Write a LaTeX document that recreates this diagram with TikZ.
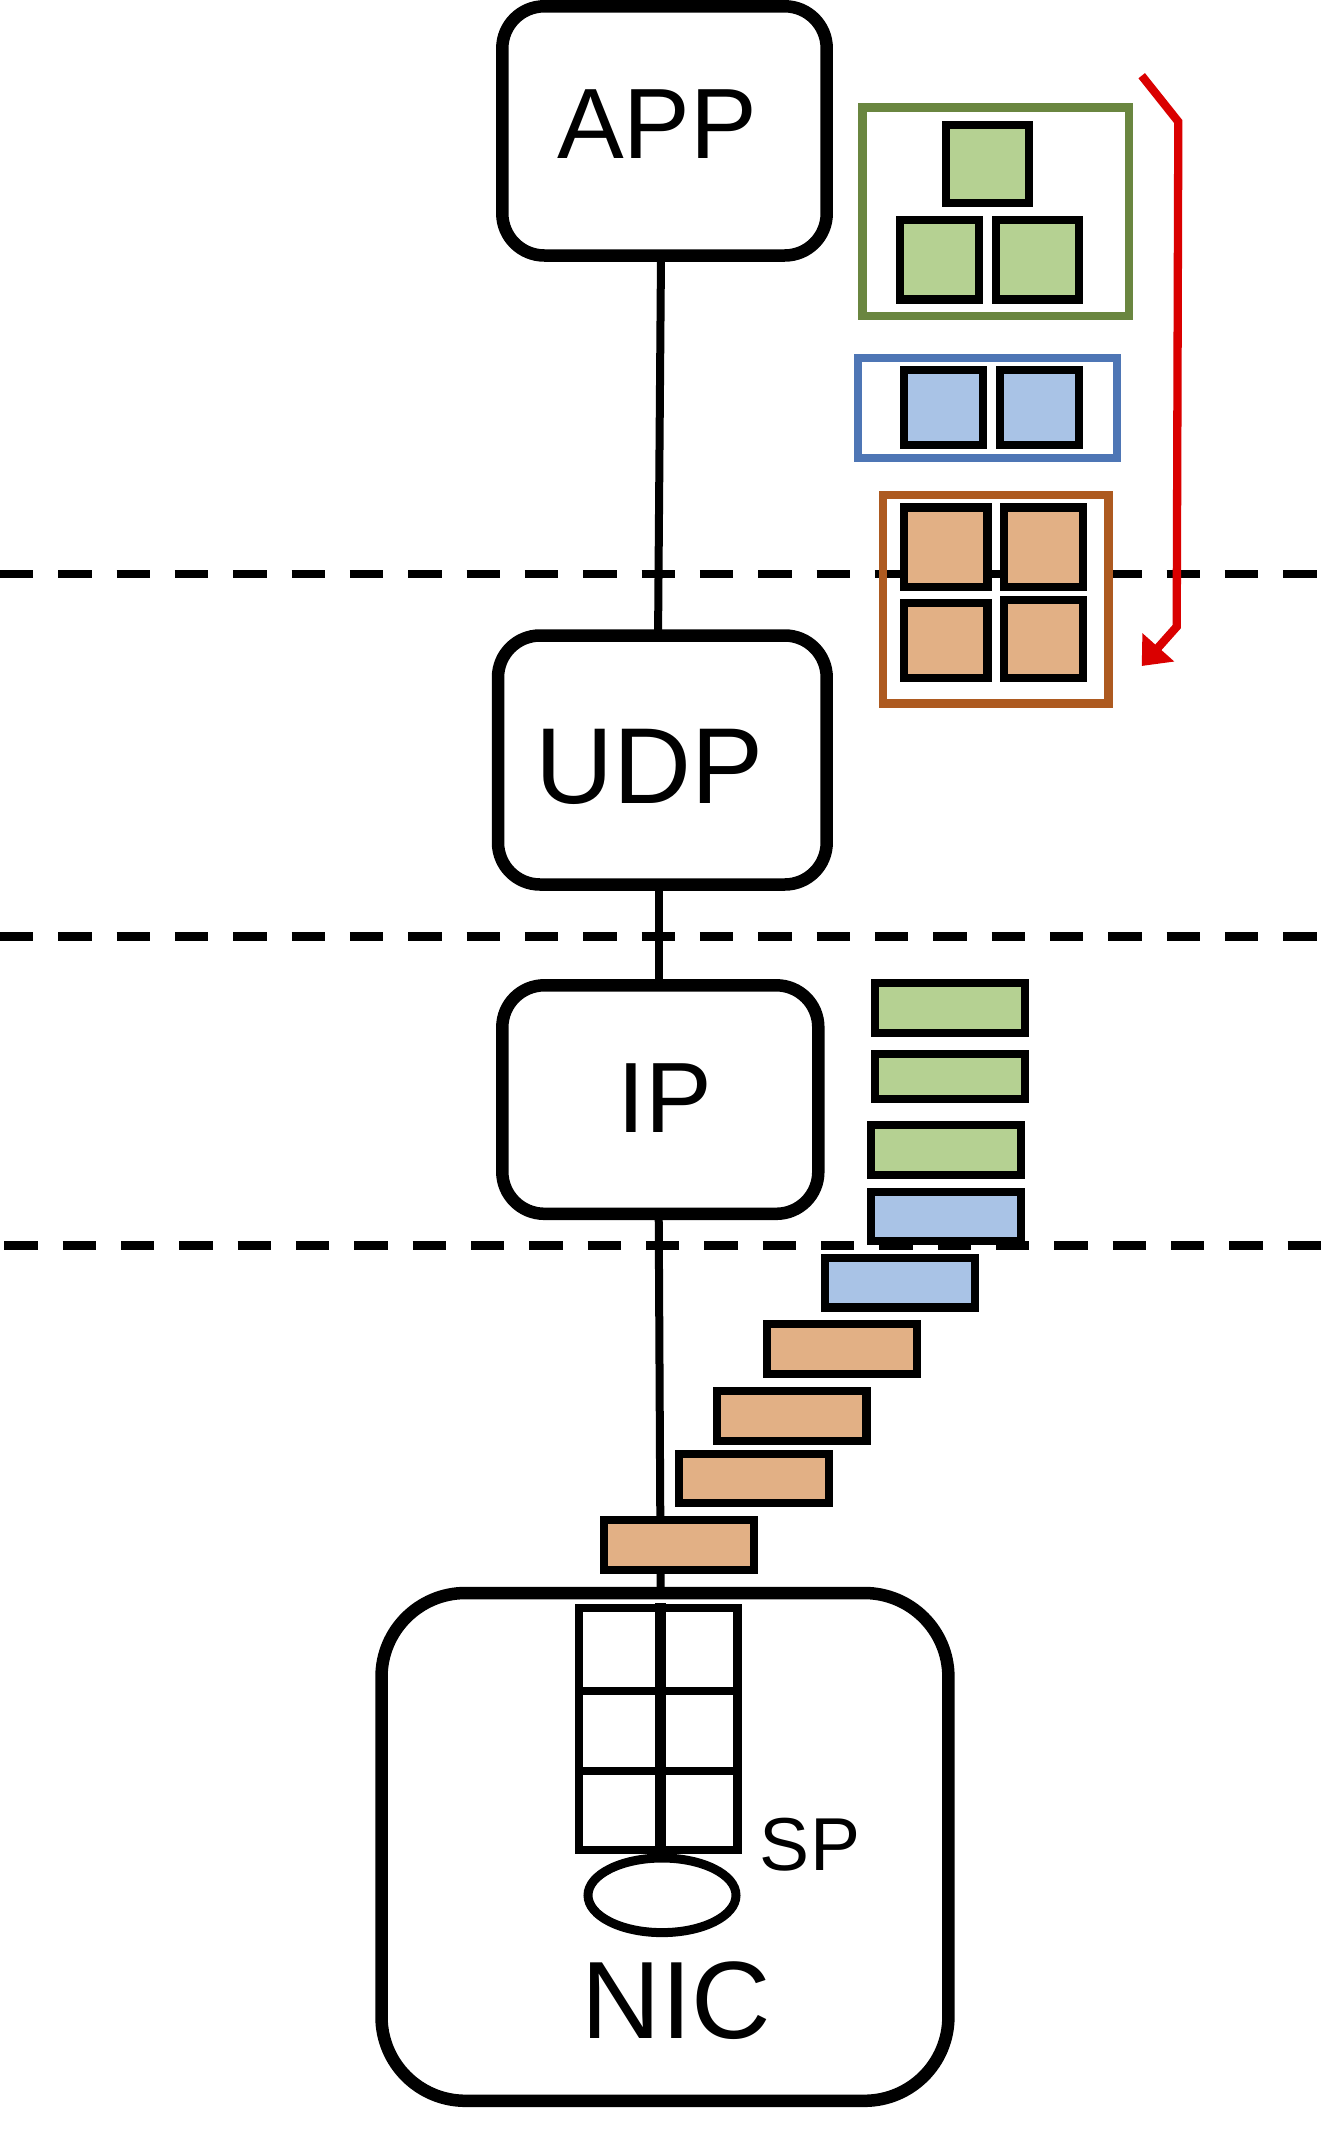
\documentclass[tikz,border=0pt]{standalone}
\usepackage{fontspec}
\setmainfont{Liberation Sans}
\usetikzlibrary{arrows.meta,shapes.geometric}
\definecolor{gbox}{HTML}{6A8640}
\definecolor{gfill}{HTML}{B5D192}
\definecolor{bbox}{HTML}{4E76B5}
\definecolor{bfill}{HTML}{A9C3E6}
\definecolor{obox}{HTML}{AD5A20}
\definecolor{ofill}{HTML}{E2B085}
\definecolor{redc}{HTML}{DA0000}
\begin{document}
\begin{tikzpicture}[x=1pt,y=-1pt,
  layerbox/.style={draw, line width=12.5pt, rounded corners=42pt, fill=white, inner sep=0pt, outer sep=0pt},
  conn/.style={line width=8pt},
  sep/.style={line width=8.5pt, dash pattern=on 33.33pt off 25pt},
  pkt/.style={draw, line width=8.3pt, inner sep=0pt, outer sep=0pt},
  grp/.style={draw, line width=8.3pt, inner sep=0pt, outer sep=0pt},
  lbl/.style={inner sep=0pt, outer sep=0pt, anchor=base},
  flow/.style={draw=redc, line width=8.3pt, -{Triangle[length=25pt,width=41pt]}}
]
\useasboundingbox (0,0) rectangle (1329,2133);
\fill[white] (0,0) rectangle (1329,2133);

% layer separators
\coordinate (d1a) at (0,574.2);   \coordinate (d1b) at (1329,574.2);
\coordinate (d2a) at (0,936.7);   \coordinate (d2b) at (1329,936.7);
\coordinate (d3a) at (4.3,1245.5); \coordinate (d3b) at (1329,1245.5);
\draw[sep] (d1a) -- (d1b);
\draw[sep] (d2a) -- (d2b);
\draw[sep] (d3a) -- (d3b);

% layer boxes
\node[layerbox, minimum width=324.4pt, minimum height=249.2pt] (app) at (664.5,130.9) {};
\node[layerbox, minimum width=328.7pt, minimum height=249pt] (udp) at (662.35,760) {};
\node[layerbox, minimum width=316pt, minimum height=228.5pt] (ip) at (660.3,1099.55) {};
\node[layerbox, rounded corners=84pt, minimum width=566.9pt, minimum height=507.8pt] (nic) at (664.95,1846.9) {};

% labels
\node[lbl, font=\fontsize{100pt}{100pt}\selectfont] (apptxt) at (657.1,158) {APP};
\node[lbl, font=\fontsize{108pt}{108pt}\selectfont] (udptxt) at (649.4,803.3) {UDP};
\node[lbl, font=\fontsize{100pt}{100pt}\selectfont] (iptxt) at (664.5,1132.7) {IP};
\node[lbl, font=\fontsize{110pt}{110pt}\selectfont] (nictxt) at (676.3,2038) {NIC};
\node[lbl, font=\fontsize{75pt}{75pt}\selectfont] (sptxt) at (810,1870.5) {SP};

% connectors
\draw[conn] ([xshift=-3.5pt]app.south) -- ([xshift=-4.3pt]udp.north);
\draw[conn] ([xshift=-3.85pt]udp.south) -- ([xshift=-1.8pt]ip.north);
\draw[conn] ([xshift=-1.6pt]ip.south) -- ([xshift=-4.25pt]nic.north);

% NIC buffer grid and ellipse
\node[pkt, minimum width=158.3pt, minimum height=242pt] (grid) at (658.35,1729) {};
\draw[line width=8.3pt] (579.2,1691.2) -- (737.5,1691.2);
\draw[line width=8.3pt] (579.2,1770.8) -- (737.5,1770.8);
\draw[line width=11pt] (660.5,1603) -- (660.5,1852);
\node[ellipse, draw, line width=9pt, minimum width=148pt, minimum height=74.6pt, inner sep=0pt] (spell) at (662,1895.3) {};

% application message (green)
\node[grp, draw=gbox, minimum width=266.7pt, minimum height=208.8pt] (ggrp) at (995.85,211.9) {};
\node[pkt, fill=gfill, minimum width=83.4pt, minimum height=78.5pt] (g1) at (987.5,164.05) {};
\node[pkt, fill=gfill, minimum width=79.3pt, minimum height=79.2pt] (g2) at (939.65,259.9) {};
\node[pkt, fill=gfill, minimum width=83.5pt, minimum height=79.2pt] (g3) at (1037.55,259.9) {};

% blue
\node[grp, draw=bbox, minimum width=258.6pt, minimum height=99.8pt] (bgrp) at (987.5,407.9) {};
\node[pkt, fill=bfill, minimum width=79.1pt, minimum height=75pt] (b1) at (943.75,407.7) {};
\node[pkt, fill=bfill, minimum width=79.3pt, minimum height=75pt] (b2) at (1039.65,407.7) {};

% orange
\node[grp, draw=obox, minimum width=225.2pt, minimum height=208.3pt] (ogrp) at (995.9,599.35) {};
\node[pkt, fill=ofill, minimum width=83.3pt, minimum height=79.2pt] (o1) at (945.85,547.1) {};
\node[pkt, fill=ofill, minimum width=79.1pt, minimum height=79.2pt] (o2) at (1043.75,547.1) {};
\node[pkt, fill=ofill, minimum width=83.3pt, minimum height=74.9pt] (o3) at (945.85,640.75) {};
\node[pkt, fill=ofill, minimum width=79.1pt, minimum height=78.5pt] (o4) at (1043.75,638.95) {};

% red flow arrow
\coordinate (rs) at (1141.7,75.7);
\coordinate (r1) at (1178.3,121.7);
\coordinate (r2) at (1176.7,626.7);
\coordinate (re) at (1141.7,666);
\draw[flow] (rs) -- (r1) -- (r2) -- (re);

% packets
\node[pkt, fill=gfill, minimum width=150pt, minimum height=49.8pt] (s1) at (950,1008.1) {};
\node[pkt, fill=gfill, minimum width=150pt, minimum height=45.4pt] (s2) at (950,1076.5) {};
\node[pkt, fill=gfill, minimum width=150pt, minimum height=49.9pt] (s3) at (945.8,1149.75) {};
\node[pkt, fill=bfill, minimum width=150pt, minimum height=49pt] (s4) at (945.8,1216.3) {};
\node[pkt, fill=bfill, minimum width=149.7pt, minimum height=49.3pt] (s5) at (899.85,1282.85) {};
\node[pkt, fill=ofill, minimum width=150pt, minimum height=50pt] (s6) at (841.7,1349.3) {};
\node[pkt, fill=ofill, minimum width=149.8pt, minimum height=49.6pt] (s7) at (791.6,1416) {};
\node[pkt, fill=ofill, minimum width=149.8pt, minimum height=49.5pt] (s8) at (754.1,1478.55) {};
\node[pkt, fill=ofill, minimum width=149.6pt, minimum height=49.8pt] (s9) at (679,1545.1) {};
\end{tikzpicture}
\end{document}
